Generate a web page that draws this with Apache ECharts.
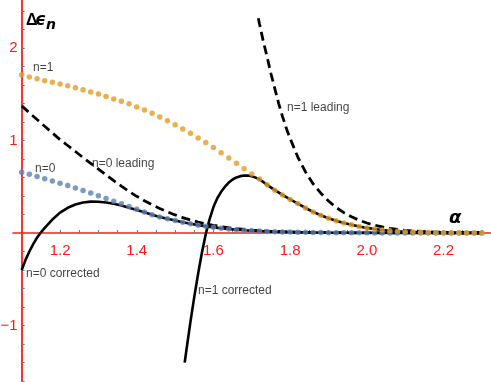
<!DOCTYPE html>
<html><head><meta charset="utf-8">
<script src="https://cdn.jsdelivr.net/npm/echarts@6/dist/echarts.min.js"></script>
<style>html,body{margin:0;padding:0;background:#fff}#c{width:491px;height:382px}</style>
</head><body><div id="c"></div>
<script>
// alpha grid for the sampled (dotted) exact curves
const alphaGrid = [1.10,1.12,1.14,1.16,1.18,1.20,1.22,1.24,1.26,1.28,1.30,1.32,1.34,1.36,1.38,1.40,1.42,1.44,1.46,1.48,1.50,1.52,1.54,1.56,1.58,1.60,1.62,1.64,1.66,1.68,1.70,1.72,1.74,1.76,1.78,1.80,1.82,1.84,1.86,1.88,1.90,1.92,1.94,1.96,1.98,2.00,2.02,2.04,2.06,2.08,2.10,2.12,2.14,2.16,2.18,2.20,2.22,2.24,2.26,2.28,2.30];
// n=1 exact (orange dots)
const n1Exact = [1.708,1.686,1.665,1.645,1.627,1.608,1.589,1.568,1.546,1.524,1.500,1.474,1.447,1.422,1.395,1.362,1.328,1.292,1.252,1.211,1.170,1.123,1.077,1.026,0.976,0.922,0.866,0.809,0.752,0.695,0.638,0.582,0.520,0.463,0.411,0.363,0.318,0.270,0.228,0.192,0.160,0.132,0.108,0.088,0.070,0.055,0.043,0.033,0.025,0.019,0.014,0.010,0.008,0.006,0.004,0.003,0.002,0.002,0.001,0.001,0.001];
// n=0 exact (blue dots)
const n0Exact = [0.656,0.634,0.610,0.585,0.561,0.537,0.512,0.487,0.459,0.431,0.402,0.372,0.344,0.315,0.285,0.256,0.226,0.198,0.174,0.153,0.134,0.116,0.100,0.085,0.072,0.061,0.051,0.043,0.036,0.030,0.025,0.021,0.017,0.014,0.012,0.010,0.008,0.007,0.006,0.005,0.004,0.003,0.003,0.002,0.002,0.002,0.001,0.001,0.001,0.001,0.001,0.001,0.001,0.001,0.001,0.001,0.001,0.001,0.001,0.001,0.001];

// n=0 leading (dashed)
const n0LeadA = [1.10,1.12,1.14,1.16,1.18,1.20,1.22,1.24,1.26,1.28,1.30,1.32,1.34,1.36,1.38,1.40,1.42,1.44,1.46,1.48,1.50,1.52,1.54,1.56,1.58,1.60,1.62,1.64,1.66,1.68,1.70,1.74,1.78,1.82,1.86,1.90,1.95,2.00,2.10,2.20,2.30];
const n0LeadV = [1.373,1.298,1.225,1.153,1.080,1.008,0.945,0.880,0.815,0.752,0.690,0.627,0.565,0.506,0.449,0.396,0.348,0.305,0.265,0.228,0.195,0.166,0.140,0.118,0.099,0.083,0.069,0.057,0.047,0.039,0.032,0.021,0.014,0.009,0.006,0.004,0.002,0.001,0.001,0.000,0.000];

// n=1 leading (dashed)
const n1LeadA = [1.717,1.72,1.73,1.74,1.75,1.76,1.77,1.78,1.79,1.80,1.82,1.84,1.86,1.88,1.90,1.92,1.94,1.96,1.98,2.00,2.02,2.04,2.06,2.08,2.10,2.14,2.18,2.22,2.26,2.30];
const n1LeadV = [2.32,2.26,2.07,1.90,1.72,1.56,1.40,1.26,1.13,1.02,0.82,0.66,0.53,0.43,0.345,0.275,0.22,0.175,0.138,0.108,0.084,0.065,0.050,0.038,0.029,0.016,0.009,0.005,0.003,0.002];

// n=0 corrected (solid)
const n0CorrA = [1.10,1.11,1.12,1.13,1.14,1.15,1.16,1.18,1.20,1.22,1.24,1.26,1.28,1.30,1.32,1.34,1.36,1.38,1.40,1.42,1.44,1.46,1.48,1.50,1.52,1.54,1.56,1.58,1.60,1.62,1.64,1.66,1.68,1.70,1.72,1.74,1.76,1.78,1.80,1.84,1.88,1.92,1.96,2.00,2.10,2.20,2.30];
const n0CorrV = [-0.40,-0.29,-0.20,-0.12,-0.05,0.005,0.055,0.145,0.220,0.272,0.308,0.330,0.339,0.338,0.330,0.316,0.297,0.272,0.248,0.223,0.197,0.174,0.153,0.134,0.116,0.100,0.085,0.072,0.061,0.051,0.043,0.036,0.030,0.025,0.021,0.017,0.014,0.012,0.010,0.007,0.005,0.003,0.002,0.002,0.001,0.001,0.001];

// n=1 corrected (solid)
const n1CorrA = [1.525,1.53,1.54,1.55,1.56,1.57,1.58,1.59,1.60,1.61,1.62,1.63,1.64,1.65,1.66,1.67,1.68,1.69,1.70,1.71,1.72,1.74,1.76,1.78,1.80,1.82,1.84,1.86,1.88,1.90,1.92,1.94,1.96,1.98,2.00,2.02,2.04,2.06,2.08,2.10,2.14,2.18,2.22,2.26,2.30];
const n1CorrV = [-1.40,-1.25,-0.96,-0.69,-0.44,-0.21,-0.01,0.15,0.28,0.375,0.445,0.50,0.545,0.578,0.600,0.614,0.620,0.620,0.612,0.598,0.580,0.520,0.463,0.411,0.363,0.318,0.270,0.228,0.192,0.160,0.132,0.108,0.088,0.070,0.055,0.043,0.033,0.025,0.019,0.014,0.008,0.004,0.002,0.001,0.001];

// axis ticks / labels
const xTickValues = [1.15,1.20,1.25,1.30,1.35,1.40,1.45,1.50,1.55,1.60,1.65,1.70,1.75,1.80,1.85,1.90,1.95,2.00,2.05,2.10,2.15,2.20,2.25,2.30];
const xLabelValues = [1.2,1.4,1.6,1.8,2.0,2.2];
const yLabelValues = [-1,1,2];

// curve annotations: text, alpha, value (left-middle anchor)
const annText = ['n=1','n=0','n=0 leading','n=1 leading','n=0 corrected','n=1 corrected'];
const annA = [1.1295,1.1347,1.2833,1.7918,1.1112,1.5597];
const annV = [1.787,0.691,0.745,1.355,-0.437,-0.621];

function pairs(xs, ys){ return xs.map((x,i)=>[x, ys[i]]); }

const RED = '#ff1a1a';
const Y_MIN = -1.6, Y_MAX = 2.6, GRID_TOP = -7.76, GRID_H = 388.92;
const chart = echarts.init(document.getElementById('c'), null, {renderer:'canvas'});
const lineBase = {type:'line', showSymbol:false, symbol:'none', silent:true, animation:false};
chart.setOption({
  animation:false,
  backgroundColor:'#fff',
  grid:{left:13, width:478, top:GRID_TOP, height:GRID_H, containLabel:false, outerBoundsMode:'none'},
  xAxis:{
    type:'value', min:1.07731, max:2.32373, position:'bottom',
    // place the axis on the value 0 of the y axis
    offset: -(0 - Y_MIN) / (Y_MAX - Y_MIN) * GRID_H,
    axisLine:{onZero:false, lineStyle:{color:RED, width:1.6}},
    axisTick:{show:true, inside:true, length:3, customValues:xTickValues, lineStyle:{color:'#777', width:1}},
    axisLabel:{customValues:xLabelValues, formatter:v=>v.toFixed(1), color:RED, fontSize:15, fontFamily:'Liberation Sans', margin:10},
    splitLine:{show:false}
  },
  yAxis:{
    type:'value', min:Y_MIN, max:Y_MAX, interval:0.2, offset:-8.7,
    axisLine:{show:true, onZero:false, lineStyle:{color:RED, width:1.8}},
    axisTick:{show:true, inside:true, length:3, lineStyle:{color:'#777', width:1}},
    axisLabel:{color:RED, fontSize:15, fontFamily:'Liberation Sans', margin:4,
      formatter:v=>{const r=Math.round(v*10)/10; return yLabelValues.includes(r) ? (r<0?'\u2212'+Math.abs(r):String(r)) : '';}},
    splitLine:{show:false}
  },
  series:[
    Object.assign({}, lineBase, {name:'n=0 leading', data:pairs(n0LeadA,n0LeadV), lineStyle:{color:'#000', width:2.8, type:[9,5]}, z:2}),
    Object.assign({}, lineBase, {name:'n=1 leading', data:pairs(n1LeadA,n1LeadV), lineStyle:{color:'#000', width:2.8, type:[9,5]}, z:2}),
    Object.assign({}, lineBase, {name:'n=0 corrected', data:pairs(n0CorrA,n0CorrV), lineStyle:{color:'#000', width:2.6}, z:2}),
    Object.assign({}, lineBase, {name:'n=1 corrected', data:pairs(n1CorrA,n1CorrV), lineStyle:{color:'#000', width:2.6}, z:2}),
    {type:'scatter', name:'n=0', data:pairs(alphaGrid,n0Exact), symbolSize:5.5, itemStyle:{color:'#5E81B5'}, z:4, silent:true},
    {type:'scatter', name:'n=1', data:pairs(alphaGrid,n1Exact), symbolSize:5.5, itemStyle:{color:'#E19C24'}, z:4, silent:true},
    {type:'scatter', name:'labels', symbolSize:0, z:5, silent:true,
      data: annText.map((t,i)=>({name:t, value:[annA[i], annV[i]]})),
      label:{show:true, position:'right', distance:0, formatter:p=>p.name, color:'#111', fontSize:12, fontFamily:'Liberation Sans'}}
  ],
  graphic:[
    {type:'text', left:26, top:13, style:{text:'\u0394', font:'bold 16px "Liberation Sans"', fill:'#000'}},
    {type:'text', left:35, top:12, style:{text:'\u03F5', font:'italic bold 17px "DejaVu Sans"', fill:'#000'}},
    {type:'text', left:46, top:18, style:{text:'n', font:'italic bold 14px "DejaVu Sans"', fill:'#000'}},
    {type:'text', left:449, top:209, style:{text:'\u03B1', font:'italic bold 18px "DejaVu Sans"', fill:'#000'}}
  ]
});
</script></body></html>
